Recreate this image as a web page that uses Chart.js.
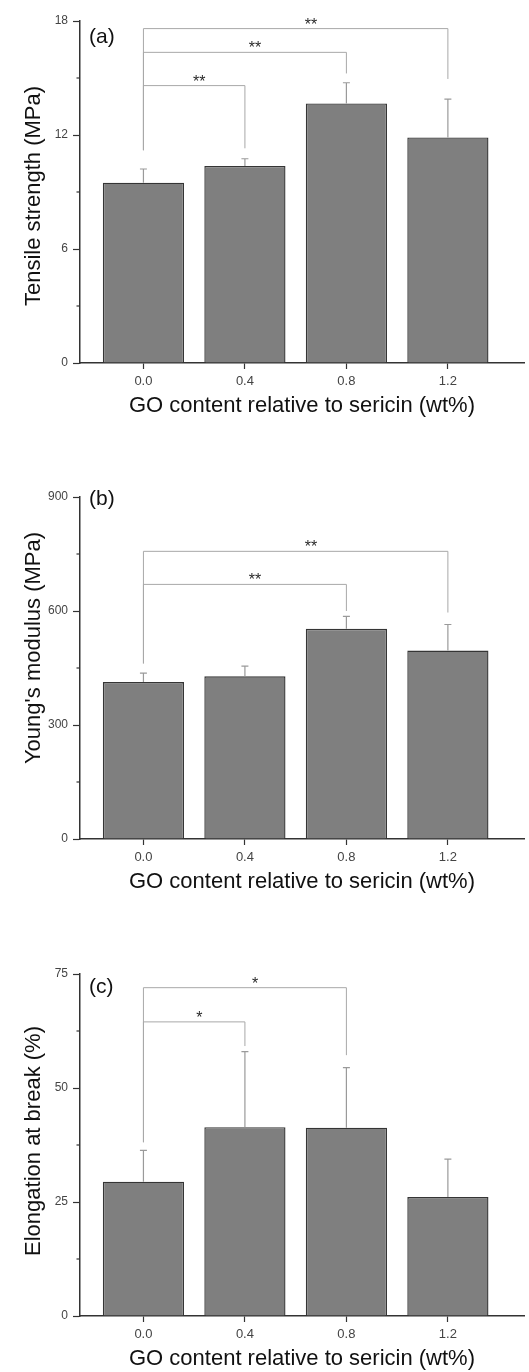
<!DOCTYPE html>
<html lang="en">
<head>
<meta charset="UTF-8">
<title>Mechanical properties of GO/sericin films</title>
<script src="https://cdn.jsdelivr.net/npm/chart.js"></script>
<style>
    body {
        margin: 0;
        padding: 0;
        background: #fff;
        width: 529px;
        height: 1372px;
        position: relative;
        overflow: hidden;
    }
    .panel {
        position: absolute;
        left: 0;
        width: 529px;
        height: 420px;
    }
</style>
</head>
<body>
<div class="panel" style="top:0px"><canvas id="chartA" width="529" height="420"></canvas></div>
<div class="panel" style="top:476px"><canvas id="chartB" width="529" height="420"></canvas></div>
<div class="panel" style="top:953px"><canvas id="chartC" width="529" height="420"></canvas></div>

<script>
    // GO content (wt%) - shared x categories
    const goContent = [0.0, 0.4, 0.8, 1.2];

    // (a) tensile strength, MPa
    const tensileMean = [9.49, 10.37, 13.66, 11.87];
    const tensileErr = [0.72, 0.38, 1.09, 2.02];
    // [from, to, bracket level, left end, right end, mark]
    const tensileSig = [
        [0, 1, 14.6, 11.2, 11.3, '**'],
        [0, 2, 16.35, 11.2, 15.24, '**'],
        [0, 3, 17.6, 11.2, 14.95, '**']
    ];

    // (b) Young's modulus, MPa
    const modulusMean = [413, 428, 553, 496];
    const modulusErr = [23.5, 27, 32.6, 68.5];
    const modulusSig = [
        [0, 2, 670, 462, 600, '**'],
        [0, 3, 757, 462, 596, '**']
    ];

    // (c) elongation at break, %
    const elongMean = [29.45, 41.4, 41.3, 26.1];
    const elongErr = [6.85, 16.56, 13.15, 8.3];
    const elongSig = [
        [0, 1, 64.5, 38.1, 59.2, '*'],
        [0, 2, 72, 38.1, 57.2, '*']
    ];

    const FONT = "'Liberation Sans', Arial, sans-serif";

    // error bars, minor ticks, significance brackets, panel letter, y title
    const extrasPlugin = {
        id: 'extras',
        afterDatasetsDraw(chart, args, opts) {
            const ctx = chart.ctx;
            const xs = chart.scales.x;
            const ys = chart.scales.y;
            const area = chart.chartArea;
            const means = chart.data.datasets[0].data;

            ctx.save();

            // error bars (upper only)
            ctx.strokeStyle = '#9a9a9a';
            ctx.lineWidth = 1.2;
            means.forEach((p, i) => {
                const x = xs.getPixelForValue(p.x);
                const y0 = ys.getPixelForValue(p.y);
                const y1 = ys.getPixelForValue(p.y + opts.err[i]);
                ctx.beginPath();
                ctx.moveTo(x, y0);
                ctx.lineTo(x, y1);
                ctx.moveTo(x - 3.5, y1);
                ctx.lineTo(x + 3.5, y1);
                ctx.stroke();
            });

            // brackets
            ctx.strokeStyle = '#a8a8a8';
            ctx.lineWidth = 1;
            ctx.fillStyle = '#2a2a2a';
            ctx.font = '16px ' + FONT;
            ctx.textAlign = 'center';
            ctx.textBaseline = 'alphabetic';
            opts.sig.forEach(b => {
                const xa = xs.getPixelForValue(goContent[b[0]]);
                const xb = xs.getPixelForValue(goContent[b[1]]);
                const yl = ys.getPixelForValue(b[2]);
                ctx.beginPath();
                ctx.moveTo(xa, ys.getPixelForValue(b[3]));
                ctx.lineTo(xa, yl);
                ctx.lineTo(xb, yl);
                ctx.lineTo(xb, ys.getPixelForValue(b[4]));
                ctx.stroke();
                ctx.fillText(b[5], xa + (xb - xa) * 0.55, yl + 1);
            });

            // minor y ticks between major ones
            ctx.strokeStyle = '#333';
            ctx.lineWidth = 1.2;
            const t = ys.ticks;
            for (let i = 0; i < t.length - 1; i++) {
                const y = ys.getPixelForValue((t[i].value + t[i + 1].value) / 2);
                ctx.beginPath();
                ctx.moveTo(area.left - 3.5, y);
                ctx.lineTo(area.left, y);
                ctx.stroke();
            }

            // panel letter
            ctx.fillStyle = '#111';
            ctx.font = '21px ' + FONT;
            ctx.textAlign = 'left';
            ctx.textBaseline = 'middle';
            ctx.fillText(opts.letter, area.left + 9, area.top + opts.letterDy);

            // y axis title
            ctx.font = '22px ' + FONT;
            ctx.textAlign = 'center';
            ctx.translate(34, (area.top + area.bottom) / 2 + opts.titleDy);
            ctx.rotate(-Math.PI / 2);
            ctx.fillText(opts.yTitle, 0, 0);

            ctx.restore();
        }
    };

    function makeChart(id, means, errs, sig, yMax, yStep, letter, letterDy, yTitle, titleDy) {
        const ctx = document.getElementById(id).getContext('2d');
        return new Chart(ctx, {
            type: 'bar',
            data: {
                datasets: [{
                    data: goContent.map((g, i) => ({ x: g, y: means[i] })),
                    backgroundColor: '#7f7f7f',
                    borderColor: '#353535',
                    borderWidth: 1.4,
                    borderSkipped: 'bottom',
                    barPercentage: 0.8,
                    categoryPercentage: 1.0
                }]
            },
            options: {
                responsive: false,
                animation: false,
                layout: { padding: { left: 0, right: 5, top: 21, bottom: 0 } },
                plugins: {
                    legend: { display: false },
                    tooltip: { enabled: false },
                    extras: { err: errs, sig: sig, letter: letter, letterDy: letterDy, yTitle: yTitle, titleDy: titleDy }
                },
                scales: {
                    x: {
                        type: 'linear',
                        min: -0.25,
                        max: 1.5,
                        offset: false,
                        afterBuildTicks: s => { s.ticks = goContent.map(v => ({ value: v })); },
                        afterFit: s => { s.height = 57; },
                        grid: { display: true, drawOnChartArea: false, offset: false, tickLength: 6, tickColor: '#333', tickWidth: 1.2 },
                        border: { display: true, color: '#333', width: 1.5 },
                        ticks: {
                            padding: 5,
                            color: '#444',
                            font: { family: FONT, size: 13 },
                            callback: v => Number(v).toFixed(1),
                            maxRotation: 0
                        },
                        title: {
                            display: true,
                            text: 'GO content relative to sericin (wt%)',
                            color: '#111',
                            font: { family: FONT, size: 22 },
                            padding: { top: 0, bottom: 1 }
                        }
                    },
                    y: {
                        min: 0,
                        max: yMax,
                        afterFit: s => { s.width = 80; },
                        grid: { display: true, drawOnChartArea: false, tickLength: 7, tickColor: '#333', tickWidth: 1.2 },
                        border: { display: true, color: '#333', width: 1.5 },
                        ticks: {
                            stepSize: yStep,
                            padding: 5,
                            color: '#444',
                            font: { family: FONT, size: 12 }
                        }
                    }
                }
            },
            plugins: [extrasPlugin]
        });
    }

    makeChart('chartA', tensileMean, tensileErr, tensileSig, 18, 6, '(a)', 16, 'Tensile strength (MPa)', 4);
    makeChart('chartB', modulusMean, modulusErr, modulusSig, 900, 300, '(b)', 2, "Young's modulus (MPa)", -20);
    makeChart('chartC', elongMean, elongErr, elongSig, 75, 25, '(c)', 13.5, 'Elongation at break (%)', -4);
</script>
</body>
</html>
